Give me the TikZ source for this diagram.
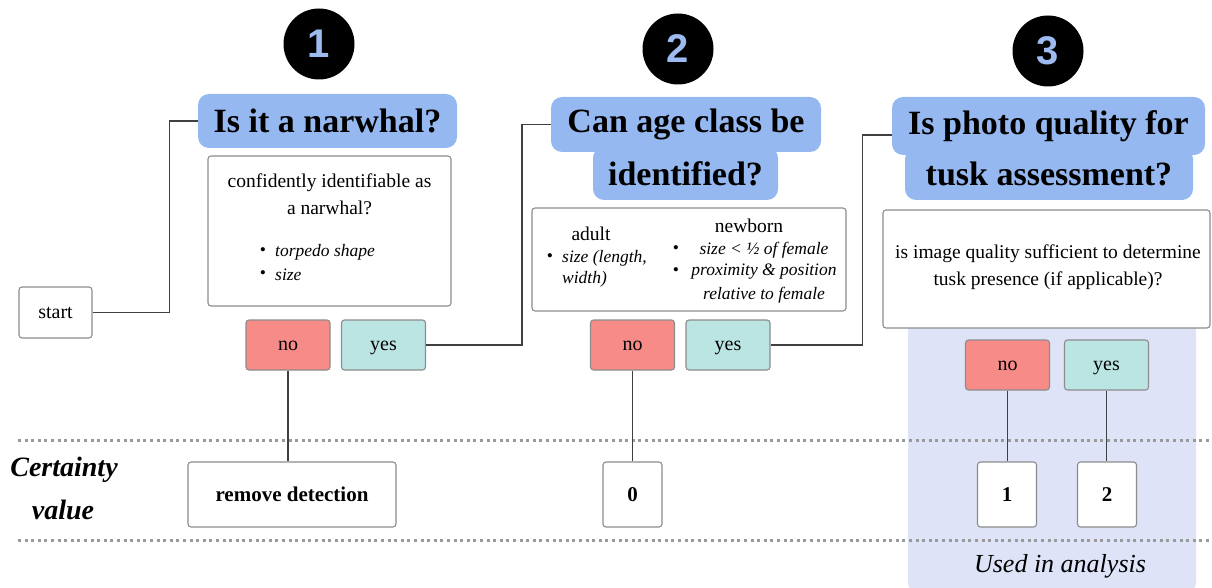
\documentclass[tikz,border=0pt]{standalone}
\usepackage{fontspec}
\setmainfont{Liberation Serif}
\newfontfamily\numfont{Liberation Sans}
\definecolor{titleblue}{HTML}{96B8F1}
\definecolor{numblue}{HTML}{9DBBF0}
\definecolor{nored}{HTML}{F78B88}
\definecolor{yesteal}{HTML}{BAE5E3}
\definecolor{panelblue}{HTML}{DEE3F7}
\definecolor{boxgray}{HTML}{8C8C8C}
\definecolor{wiregray}{HTML}{404040}
\definecolor{dotgray}{HTML}{9A9A9A}
\begin{document}
\begin{tikzpicture}[x=1pt,y=-1pt,
  box/.style={draw=boxgray, line width=1.1pt, rounded corners=3pt, fill=white, inner sep=0pt},
  titlebox/.style={fill=titleblue, rounded corners=11pt, inner sep=0pt, font=\fontsize{34}{40}\selectfont\bfseries},
  btn/.style={box, font=\fontsize{20}{24}\selectfont, minimum width=84pt, minimum height=50pt, text height=14pt, text depth=4pt},
  nobtn/.style={btn, fill=nored},
  yesbtn/.style={btn, fill=yesteal},
  wire/.style={draw=wiregray, line width=1.6pt},
  numcirc/.style={circle, fill=black, minimum size=71pt, inner sep=0pt, text=numblue, font=\numfont\bfseries\fontsize{40}{40}\selectfont},
  valbox/.style={box, font=\fontsize{21}{24}\selectfont\bfseries, minimum height=65pt},
  txt/.style={inner sep=0pt, font=\fontsize{19.5}{24}\selectfont},
  itm/.style={inner sep=0pt, font=\fontsize{17.5}{21}\selectfont\itshape},
  bul/.style={inner sep=0pt, font=\fontsize{17.5}{21}\selectfont},
  dotline/.style={draw=dotgray, line width=3pt, dash pattern=on 3pt off 3.6pt},
]
\useasboundingbox (0,0) rectangle (1212,588);

% panel
\node[fill=panelblue, rounded corners=9pt, minimum width=288pt, minimum height=270pt, inner sep=0pt] (panel) at (1052,457) {};

% dotted separators
\coordinate (dl1a) at (18,440); \coordinate (dl1b) at (1212,440);
\coordinate (dl2a) at (18,540); \coordinate (dl2b) at (1212,540);
\draw[dotline] (dl1a) -- (dl1b);
\draw[dotline] (dl2a) -- (dl2b);

% numbers
\node[numcirc] (c1) at (319,44) {1};
\node[numcirc] (c2) at (678,49) {2};
\node[numcirc] (c3) at (1048,51) {3};

% titles
\node[titlebox, minimum width=259pt, minimum height=54pt] (t1) at (327.5,121) {Is it a narwhal?};
\node[titlebox, minimum width=185pt, minimum height=53pt] (t2b) at (685.5,173.5) {identified?};
\node[titlebox, minimum width=270pt, minimum height=55pt] (t2a) at (686,124.5) {Can age class be};
\node[titlebox, minimum width=288pt, minimum height=52pt] (t3b) at (1049,174) {tusk assessment?};
\node[titlebox, minimum width=313pt, minimum height=58pt] (t3a) at (1048.5,126) {Is photo quality for};

% start
\node[box, minimum width=73pt, minimum height=51pt, font=\fontsize{20}{24}\selectfont] (start) at (55.5,312.5) {start};

% description boxes
\node[box, minimum width=243pt, minimum height=150pt] (d1) at (329.5,231) {};
\node[txt] (d1l1) at (329.5,183) {confidently identifiable as};
\node[txt] (d1l2) at (329.5,208) {a narwhal?};
\node[bul] (d1b1) at (263,252) {\textbullet};
\node[itm, anchor=west] (d1i1) at (275,252) {torpedo shape};
\node[bul] (d1b2) at (263,275) {\textbullet};
\node[itm, anchor=west] (d1i2) at (275,275) {size};

\node[box, minimum width=314pt, minimum height=103pt] (d2) at (689,259.5) {};
\node[txt] (d2a) at (591,234) {adult};
\node[bul] (d2ab) at (550,258) {\textbullet};
\node[itm, anchor=west] (d2a1) at (562,258) {size (length,};
\node[itm, anchor=west] (d2a2) at (562,279) {width)};
\node[txt] (d2n) at (749,226) {newborn};
\node[bul] (d2nb1) at (676,250) {\textbullet};
\node[itm] (d2n1) at (764,250) {size < \textonehalf\ of female};
\node[bul] (d2nb2) at (676,272) {\textbullet};
\node[itm] (d2n2) at (764,272) {proximity \& position};
\node[itm] (d2n3) at (764,295) {relative to female};

\node[box, minimum width=327pt, minimum height=118pt] (d3) at (1046.5,269) {};
\node[txt] (d3l1) at (1048,254) {is image quality sufficient to determine};
\node[txt] (d3l2) at (1048,281) {tusk presence (if applicable)?};

% buttons
\node[nobtn] (no1) at (288,345) {no};
\node[yesbtn] (yes1) at (383.5,345) {yes};
\node[nobtn] (no2) at (632.5,345) {no};
\node[yesbtn] (yes2) at (728,345) {yes};
\node[nobtn] (no3) at (1007.5,365) {no};
\node[yesbtn] (yes3) at (1106.5,365) {yes};

% values
\node[valbox, minimum width=208pt] (rd) at (292,494.5) {remove detection};
\node[valbox, minimum width=59pt] (v0) at (632.5,494.5) {0};
\node[valbox, minimum width=59pt] (v1) at (1007,494.5) {1};
\node[valbox, minimum width=59pt] (v2) at (1107,494.5) {2};

% labels
\node[inner sep=0pt, font=\fontsize{28}{32}\selectfont\bfseries\itshape] (cert1) at (64,470) {Certainty};
\node[inner sep=0pt, font=\fontsize{28}{32}\selectfont\bfseries\itshape] (cert2) at (63,510) {value};
\node[inner sep=0pt, font=\fontsize{26}{30}\selectfont\itshape] (used) at (1060,566) {Used in analysis};

% connectors
\draw[wire] (start.east) -- ++(77,0) |- (t1.west);
\draw[wire] (yes1.east) -- ++(96,0) |- (t2a.west);
\draw[wire] (yes2.east) -- ++(92,0) |- ([yshift=-9pt]t3a.west);
\draw[wire] (no1.south) -- (no1.south |- rd.north);
\draw[wire] (no2.south) -- (v0.north);
\draw[wire] (no3.south) -- (no3.south |- v1.north);
\draw[wire] (yes3.south) -- (yes3.south |- v2.north);
\end{tikzpicture}
\end{document}
